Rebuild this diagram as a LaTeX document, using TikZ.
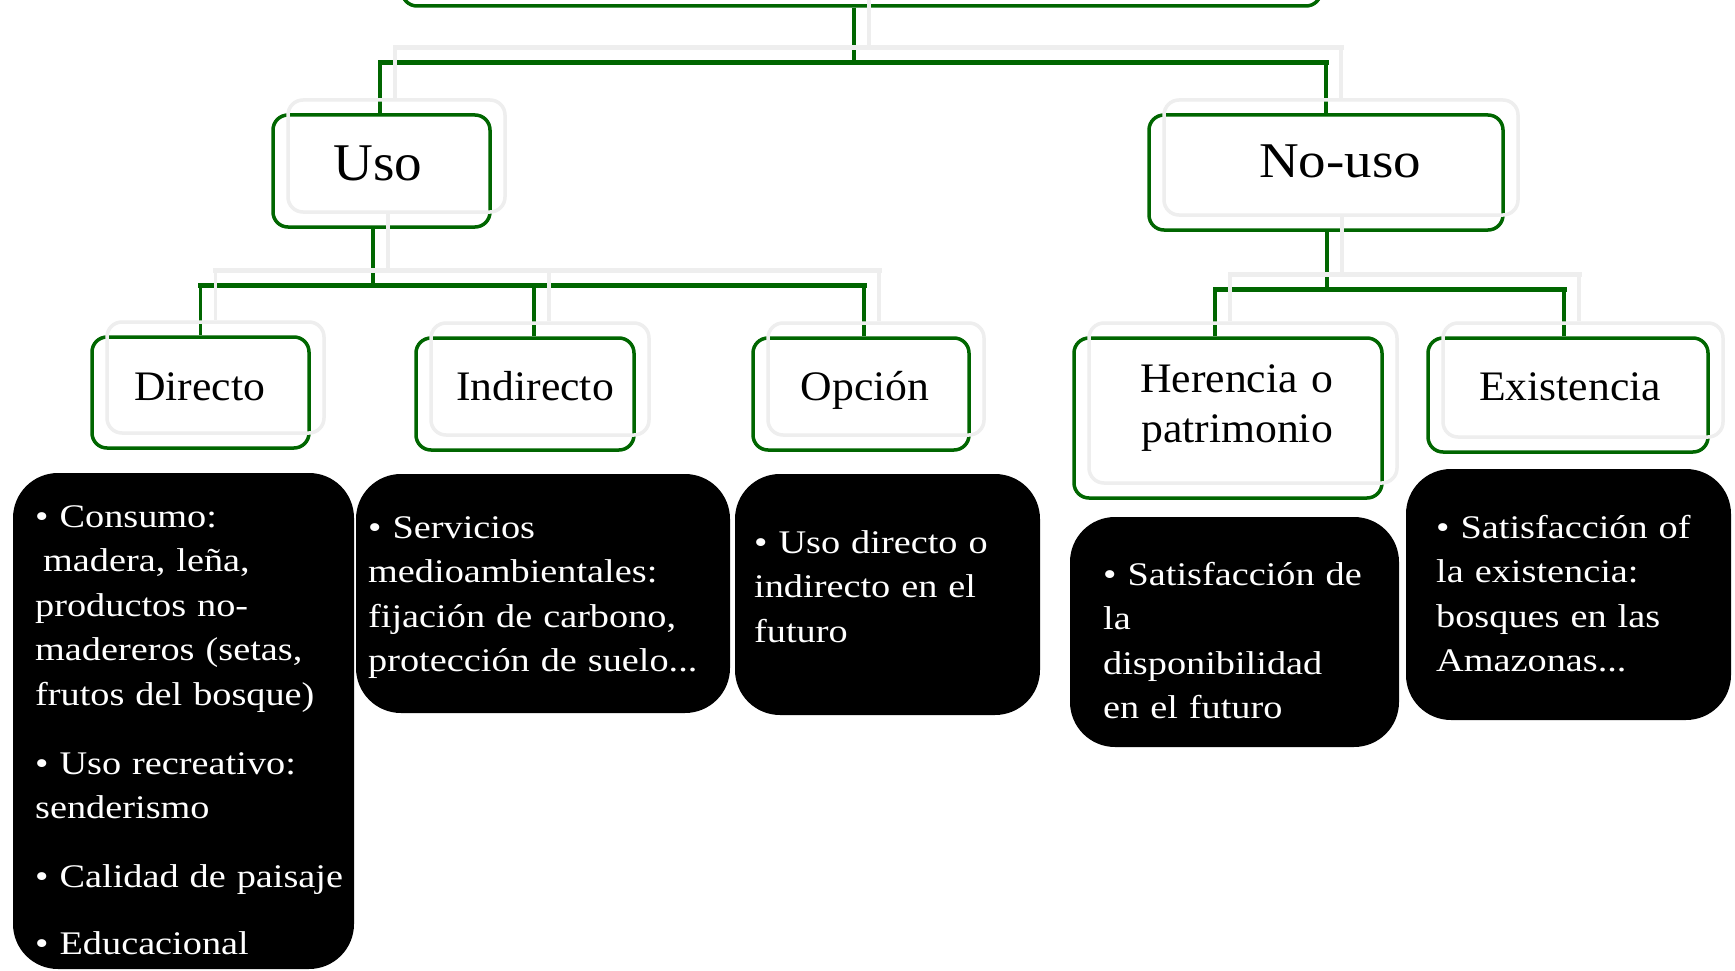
\documentclass[tikz,border=0pt]{standalone}
\usepackage{fontspec}
\setmainfont{Liberation Serif}
\newfontfamily\bodyfont{Liberation Serif}[FakeStretch=1.16]
\newfontfamily\lblfont{Liberation Serif}[FakeStretch=1.04]
\newfontfamily\wlblfont{Liberation Serif}[FakeStretch=1.1]
\definecolor{dgreen}{RGB}{0,102,0}
\definecolor{shgray}{RGB}{238,238,238}
\colorlet{tcol}{dgreen}
\newcommand\mytree{%
  \node[gbox, minimum width=919, minimum height=106] (top) at (861.5,-47) {};
  \node[gbox, minimum width=217, minimum height=112] (uso) at (381.5,171) {};
  \node[gbox, minimum width=354, minimum height=115] (nouso) at (1326,172.5) {};
  \node[gbox, minimum width=217, minimum height=111] (dir) at (200.5,392.5) {};
  \node[gbox, minimum width=218, minimum height=112] (ind) at (525,394) {};
  \node[gbox, minimum width=216, minimum height=112] (opc) at (861,394) {};
  \node[gbox, minimum width=308, minimum height=160] (her) at (1228,418) {};
  \node[gbox, minimum width=280, minimum height=114] (exi) at (1568,395) {};
  % level 1
  \coordinate (j0) at (854,63);
  \draw[vline] (top.south -| j0) -- (j0);
  \draw[bus] ([xshift=-1.5]uso.north |- j0) -- (nouso.north |- j0);
  \draw[vline] ([xshift=-1.5]uso.north |- j0) -- ([xshift=-1.5]uso.north);
  \draw[vline] (nouso.north |- j0) -- (nouso.north);
  % level 2 left
  \coordinate (j1) at (373,285);
  \draw[vline] (uso.south -| j1) -- (j1);
  \draw[bus] (dir.north |- j1) -- ([xshift=3]opc.north |- j1);
  \draw[vline] (dir.north |- j1) -- (dir.north);
  \draw[vline] ([xshift=9]ind.north |- j1) -- ([xshift=9]ind.north);
  \draw[vline] ([xshift=3]opc.north |- j1) -- ([xshift=3]opc.north);
  % level 2 right
  \coordinate (j2) at (1327,289);
  \draw[vline] (nouso.south -| j2) -- (j2);
  \draw[bus] ([xshift=-13]her.north |- j2) -- ([xshift=-4]exi.north |- j2);
  \draw[vline] ([xshift=-13]her.north |- j2) -- ([xshift=-13]her.north);
  \draw[vline] ([xshift=-4]exi.north |- j2) -- ([xshift=-4]exi.north);
}
\begin{document}
\begin{tikzpicture}[x=1pt,y=-1pt,
  gbox/.style={draw=tcol, line width=3.5pt, rounded corners=15pt, inner sep=0pt},
  vline/.style={draw=tcol, line width=3.5pt},
  bus/.style={draw=tcol, line width=5pt, line cap=rect},
  bbox/.style={fill=black, rounded corners=45pt, inner sep=0pt},
  btext/.style={text=white, font=\bodyfont\fontsize{33}{44.6}\selectfont, text width=400pt, align=left, inner sep=0pt, anchor=base west},
  lbl/.style={font=\lblfont\fontsize{42}{50}\selectfont, inner sep=0pt, anchor=base}]
\useasboundingbox (0,0) rectangle (1735,971);
\clip (0,0) rectangle (1735,971);
\fill[white] (0,0) rectangle (1735,971);
% main tree
\mytree
% light shadow copy
\begin{scope}[shift={(15,-15)}, name prefix=s-]
  \colorlet{tcol}{shgray}
  \mytree
\end{scope}
% labels
\node[lbl, font=\lblfont\fontsize{53}{60}\selectfont] (uso-l) at (378,180) {Uso};
\node[lbl, font=\wlblfont\fontsize{50}{60}\selectfont] (nouso-l) at (1340,177) {No-uso};
\node[lbl] (dir-l) at (199.5,400) {Directo};
\node[lbl] (ind-l) at (535,400) {Indirecto};
\node[lbl] (opc-l) at (865,400) {Opción};
\node[lbl, align=center, text width=300pt] (her-l) at (1237,392) {Herencia o\\patrimonio};
\node[lbl] (exi-l) at (1570,400) {Existencia};
% black boxes
\node[bbox, minimum width=341, minimum height=496] (d1) at (183.5,721) {};
\node[bbox, minimum width=374, minimum height=239] (d2) at (543,593.5) {};
\node[bbox, minimum width=305, minimum height=241] (d3) at (887.5,594.5) {};
\node[bbox, minimum width=329, minimum height=230] (d4) at (1234.5,632) {};
\node[bbox, minimum width=325, minimum height=251] (d5) at (1568.5,594.5) {};
\node[btext] (t1) at (35,527) {• Consumo:\\ \hspace*{8pt}madera, leña,\\ productos no-\\ madereros (setas,\\ frutos del bosque)\\[24pt] • Uso recreativo:\\ senderismo\\[24pt] • Calidad de paisaje\\[23pt] • Educacional};
\node[btext] (t2) at (368,538) {• Servicios\\ medioambientales:\\ fijación de carbono,\\ protección de suelo...};
\node[btext] (t3) at (754,553) {• Uso directo o\\ indirecto en el\\ futuro};
\node[btext] (t4) at (1103,585) {• Satisfacción de\\ la\\ disponibilidad\\ en el futuro};
\node[btext] (t5) at (1436,538) {• Satisfacción of\\ la existencia:\\ bosques en las\\ Amazonas...};
\end{tikzpicture}
\end{document}
